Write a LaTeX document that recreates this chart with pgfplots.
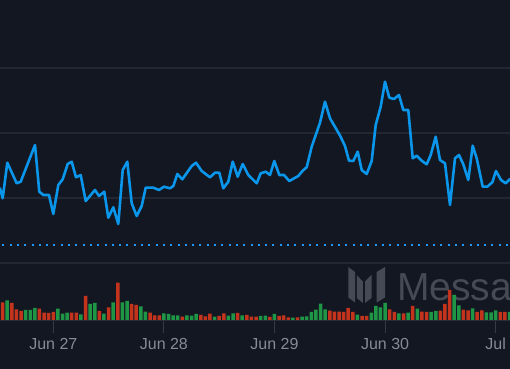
\documentclass[border=0pt]{standalone}
\usepackage{fontspec}
\setmainfont{Liberation Sans}
\usepackage{pgfplots}
\usepackage{pgfplotstable}
\pgfplotsset{compat=1.18}

\definecolor{bg}{HTML}{131722}
\definecolor{gridc}{HTML}{232733}
\definecolor{linecol}{HTML}{0A96EB}
\definecolor{dotcol}{HTML}{2196F3}
\definecolor{upcol}{HTML}{1E9646}
\definecolor{downcol}{HTML}{C4341C}
\definecolor{labcol}{HTML}{868B95}
\definecolor{tickcol}{HTML}{363A45}
\definecolor{basecol}{HTML}{2A2E39}
\definecolor{wmcol}{HTML}{464A54}
\definecolor{wmtext}{HTML}{464A54}

% hourly volume, index = hour from the left edge, value = bar height
\pgfplotstableread{
i h
0 17.7
2 17.0
3 10.7
4 9.0
8 11.3
9 7.3
10 7.0
11 8.0
15 7.3
16 7.3
18 24.0
21 9.0
23 12.7
25 37.3
28 16.0
29 15.0
32 7.3
33 4.7
34 4.7
39 3.3
43 5.0
44 3.7
45 6.3
47 4.0
48 6.7
51 7.0
53 5.0
54 3.3
55 3.3
58 3.0
60 4.0
61 4.7
62 2.7
64 2.7
71 9.3
72 8.3
73 8.3
74 8.0
75 12.0
76 8.0
78 4.0
79 4.0
84 10.7
85 8.0
87 6.7
89 14.0
91 8.3
92 8.0
95 9.3
96 16.0
97 30.0
100 10.3
101 9.7
103 8.0
104 9.7
108 8.0
109 8.0
}\voldown

\pgfplotstableread{
i h
1 19.7
5 10.0
6 10.0
7 12.0
12 11.3
13 6.3
14 7.3
17 5.7
19 16.0
20 17.0
22 6.3
24 17.7
26 17.7
27 19.0
30 13.7
31 8.3
35 6.7
36 6.0
37 4.7
38 4.7
40 4.7
41 4.3
42 6.0
46 3.3
49 4.3
50 6.7
52 4.7
56 4.0
57 4.3
59 6.0
63 2.3
65 3.3
66 3.7
67 8.0
68 10.3
69 16.3
70 10.7
77 5.3
80 7.3
81 14.0
82 12.7
83 17.0
86 6.7
88 7.3
90 11.3
93 8.0
94 9.0
98 25.0
99 14.7
102 11.7
105 7.7
106 7.7
107 9.7
110 8.0
}\volup

\pgfplotstableread{
x y
0 180.7
2.7 170.7
7.3 206.3
16.7 185.7
20.7 187.3
35 224
39.3 177.3
43.3 174
49 174
53.3 155
58.3 184
62.7 189.7
67.7 205
71.7 207.3
76 191.7
80.7 194
85.7 168
95 179
99 173
104.3 177.3
108.3 151.3
113.3 161.7
118.3 145
122.7 199
127.3 207.3
131.7 165.7
136.7 153
141.7 163
145.7 181.3
153.3 181.3
159 179
164 182.3
170 180.7
173.3 183
177.3 195
182.3 189.7
191.7 203
196 206.3
201.7 198
210 191.7
215 196.3
219.3 196.3
223.3 180.7
228.3 187.3
232.7 207.3
237.7 192.3
242.7 205
248.3 194
256.7 185.7
260.7 195.7
265.7 197.3
270 194
274.3 208
279.3 194
284 194
289.3 188
298.3 193
302.7 198.3
306.7 201.7
311.7 222.3
320 246.3
325 267.3
330 250.7
340 233.5
345 223
349 208.3
353.3 208
357.7 217.3
361.7 199
366.7 195
371.7 208
375.7 244
380.7 262.3
385 287.3
389.3 271.3
394 270
399 274
403.3 259
408.3 259
412.7 210.7
416.7 213.3
421.7 208.3
426.7 204.7
430.7 214
435.7 232.3
440 209
445 205.7
450 164
455 210.7
459 214
463.3 204.7
468.3 189
472.7 223.3
476.7 210.7
482.7 182.3
487.3 182.3
492.3 186.7
496 198
501 189
505.7 185.7
510 190
}\price

\tikzset{tk/.style={tickcol, line width=1bp},
  lb/.style={anchor=base, inner sep=0pt, text=labcol, font=\fontsize{16bp}{18bp}\selectfont}}

\begin{document}
\begin{tikzpicture}
\fill[bg] (0,0) rectangle (510bp,369bp);

% watermark (logo + word mark, cut at the right edge)
\begin{scope}[x=1bp,y=-1bp,shift={(0bp,369bp)}]
\fill[wmcol] (348.3,267) -- (355,272) -- (355,302.5) -- (348.3,297.5) -- cycle;
\fill[wmcol] (356.8,275) -- (362.8,281.5) -- (362.8,303) -- (356.8,298) -- cycle;
\fill[wmcol] (365,281.5) -- (371.5,275) -- (371.5,298) -- (365,303) -- cycle;
\fill[wmcol] (376.7,272) -- (385,267) -- (385,297.5) -- (376.7,302.5) -- cycle;
\node[anchor=base west, inner sep=0pt, text=wmtext, font=\fontsize{39bp}{39bp}\selectfont] at (397,300.3) {Messari};
\end{scope}

% volume pane
\begin{axis}[
  at={(0,0)}, anchor=south west,
  scale only axis, width=510bp, height=369bp,
  xmin=-0.566, xmax=110.11, ymin=-49, ymax=320,
  axis lines=none, ticks=none,
]
\addplot[ybar, bar width=3.5bp, bar shift=0pt, fill=downcol, draw=none] table[x=i,y=h] {\voldown};
\addplot[ybar, bar width=3.5bp, bar shift=0pt, fill=upcol, draw=none] table[x=i,y=h] {\volup};
\draw[basecol, line width=1.3bp] (axis cs:-1,-0.6) -- (axis cs:111,-0.6);
\draw[tk] (axis cs:11,-1) -- (axis cs:11,-13);
\draw[tk] (axis cs:35,-1) -- (axis cs:35,-13);
\draw[tk] (axis cs:59,-1) -- (axis cs:59,-13);
\draw[tk] (axis cs:83,-1) -- (axis cs:83,-13);
\draw[tk] (axis cs:107,-1) -- (axis cs:107,-13);
\node[lb] at (axis cs:11,-29.3) {Jun 27};
\node[lb] at (axis cs:35,-29.3) {Jun 28};
\node[lb] at (axis cs:59,-29.3) {Jun 29};
\node[lb] at (axis cs:83,-29.3) {Jun 30};
\node[lb] at (axis cs:107,-29.3) {Jul};
\end{axis}

% price pane
\begin{axis}[
  at={(0,0)}, anchor=south west,
  scale only axis, width=510bp, height=369bp,
  xmin=0, xmax=510, ymin=0, ymax=369,
  axis line style={draw=none},
  xtick=\empty,
  ytick={106,171,236,301}, yticklabels={},
  major tick length=0pt,
  ymajorgrids, grid style={gridc, line width=1.1bp},
]
\draw[dotcol, line width=2bp, dash pattern=on 2bp off 5.3bp] (axis cs:2.3,123.6) -- (axis cs:510,123.6);
\addplot[linecol, line width=2.6bp, line join=round, line cap=round, mark=none] table[x=x,y=y] {\price};
\end{axis}

\pgfresetboundingbox
\path[use as bounding box] (0,0) rectangle (510bp,369bp);
\end{tikzpicture}
\end{document}
